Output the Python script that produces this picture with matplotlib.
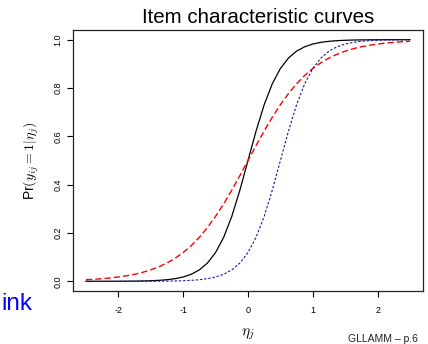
import matplotlib
matplotlib.use('Agg')
import matplotlib.pyplot as plt

plt.rcParams['font.family'] = ['Liberation Sans', 'DejaVu Sans']
plt.rcParams['mathtext.fontset'] = 'cm'

# latent trait values and probabilities
eta = [-2.5, -2.375, -2.25, -2.125, -2.0, -1.875, -1.75, -1.625, -1.5, -1.375,
       -1.25, -1.125, -1.0, -0.875, -0.75, -0.625, -0.5, -0.375, -0.25, -0.125,
       0.0, 0.125, 0.25, 0.375, 0.5, 0.625, 0.75, 0.875, 1.0, 1.125,
       1.25, 1.375, 1.5, 1.625, 1.75, 1.875, 2.0, 2.125, 2.25, 2.375, 2.5]

p_black = [0.0000, 0.0001, 0.0001, 0.0002, 0.0003, 0.0006, 0.0009, 0.0015, 0.0025, 0.0041,
           0.0067, 0.0110, 0.0180, 0.0293, 0.0474, 0.0759, 0.1192, 0.1824, 0.2689, 0.3775,
           0.5000, 0.6225, 0.7311, 0.8176, 0.8808, 0.9241, 0.9526, 0.9707, 0.9820, 0.9890,
           0.9933, 0.9959, 0.9975, 0.9985, 0.9991, 0.9994, 0.9997, 0.9998, 0.9999, 0.9999, 1.0000]

p_red = [0.0067, 0.0086, 0.0110, 0.0141, 0.0180, 0.0230, 0.0293, 0.0373, 0.0474, 0.0601,
         0.0759, 0.0953, 0.1192, 0.1480, 0.1824, 0.2227, 0.2689, 0.3208, 0.3775, 0.4378,
         0.5000, 0.5622, 0.6225, 0.6792, 0.7311, 0.7773, 0.8176, 0.8520, 0.8808, 0.9047,
         0.9241, 0.9399, 0.9526, 0.9627, 0.9707, 0.9770, 0.9820, 0.9859, 0.9890, 0.9914, 0.9933]

p_blue = [0.0000, 0.0000, 0.0000, 0.0000, 0.0000, 0.0001, 0.0001, 0.0002, 0.0003, 0.0006,
          0.0009, 0.0015, 0.0025, 0.0041, 0.0067, 0.0110, 0.0180, 0.0293, 0.0474, 0.0759,
          0.1192, 0.1824, 0.2689, 0.3775, 0.5000, 0.6225, 0.7311, 0.8176, 0.8808, 0.9241,
          0.9526, 0.9707, 0.9820, 0.9890, 0.9933, 0.9959, 0.9975, 0.9985, 0.9991, 0.9994, 0.9997]

xticks = [-2, -1, 0, 1, 2]
yticks = [0.0, 0.2, 0.4, 0.6, 0.8, 1.0]
ylabels = ['0.0', '0.2', '0.4', '0.6', '0.8', '1.0']

W, H = 428, 344
fig = plt.figure(figsize=(W / 100, H / 100), dpi=100)
ax = fig.add_axes([73 / W, 1 - 291 / H, (423 - 73) / W, (291 - 30) / H])

ax.plot(eta, p_black, c='black', lw=0.9)
l_red, = ax.plot(eta, p_red, c='red', lw=1.0)
l_red.set_dashes([4.5, 2.2])
l_blue, = ax.plot(eta, p_blue, c='#1c1c9a', lw=0.8)
l_blue.set_dashes([2.2, 1.6])

ax.set_xlim(-2.7, 2.7)
ax.set_ylim(-0.04, 1.04)
ax.set_xticks(xticks)
ax.set_xticklabels([str(t) for t in xticks])
ax.set_yticks(yticks)
ax.set_yticklabels(ylabels, rotation=90, va='center')
ax.tick_params('x', labelsize=6.5, length=4.3, width=0.8, pad=6.5)
ax.tick_params('y', labelsize=6.5, length=4.3, width=0.8, pad=3.5)
for s in ax.spines.values():
    s.set_linewidth(0.9)
    s.set_color('#222222')

ax.set_xlabel(r'$\eta_j$', fontsize=11, labelpad=8)
ax.set_ylabel(r'Pr$(y_{ij}=1|\eta_j)$', fontsize=10, labelpad=9)

fig.text(258.3 / W, 1 - 23.3 / H, 'Item characteristic curves', fontsize=14.8,
         ha='center', va='baseline')
fig.text(418 / W, 1 - 342.5 / H, 'GLLAMM \u2013 p.6', fontsize=7.5,
         ha='right', va='baseline', color='#222222')
# only the tail of the slide's "link" shows at the left edge
fig.text(32 / W, 1 - 310 / H, 'ink', fontsize=17.5, color='#0000ff',
         ha='right', va='baseline')

fig.savefig('out.png', dpi=100)
